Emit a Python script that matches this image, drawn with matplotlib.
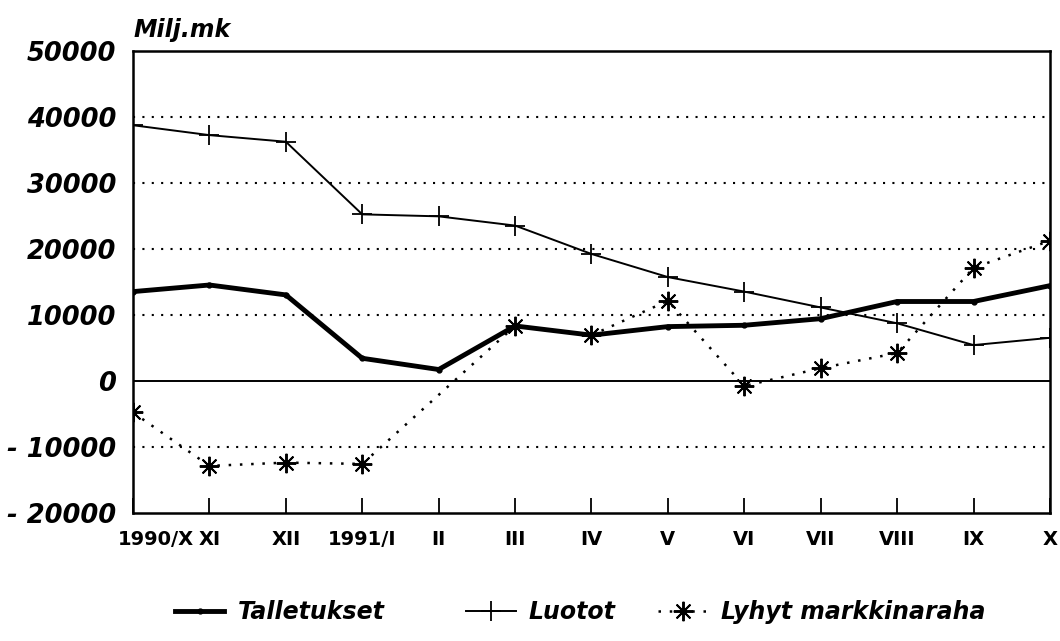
import matplotlib
matplotlib.use("Agg")
import matplotlib.pyplot as plt
import matplotlib.transforms as mtransforms
from matplotlib.lines import Line2D

# kuukaudet 1990/X - 1991/X
months = ["1990/X", "XI", "XII", "1991/I", "II", "III", "IV", "V", "VI", "VII", "VIII", "IX", "X"]
talletukset = [13600, 14600, 13100, 3500, 1800, 8400, 7000, 8300, 8500, 9500, 12100, 12100, 14500]
luotot = [38800, 37300, 36300, 25300, 25000, 23600, 19300, 15800, 13600, 11200, 8800, 5500, 6600]
# lyhyt markkinaraha: helmikuulta (II) ei havaintoa
lyhyt_months = ["1990/X", "XI", "XII", "1991/I", "III", "IV", "V", "VI", "VII", "VIII", "IX", "X"]
lyhyt = [-4700, -12800, -12300, -12500, 8400, 7000, 12200, -700, 2000, 4300, 17200, 21300]
yticks = [-20000, -10000, 0, 10000, 20000, 30000, 40000, 50000]
names = ["Talletukset", "Luotot", "Lyhyt markkinaraha"]

plt.rcParams['font.family'] = ['DejaVu Sans']

fig = plt.figure(figsize=(10.6, 6.41), dpi=100)
ax = fig.add_axes([0.1255, 0.199, 0.865, 0.721])

x = list(range(len(months)))
lx = [months.index(m) for m in lyhyt_months]

style_t = dict(color="black", lw=3.5, marker="o", ms=3.5)
style_l = dict(color="black", lw=1.4, marker="+", ms=15, mew=1.3)
style_m = dict(color="black", lw=1.8, ls=(0, (1, 3.5)), marker=(8, 2, 0), ms=14, mew=1.4)

ax.plot(x, talletukset, solid_joinstyle="miter", **style_t)
ax.plot(x, luotot, **style_l)
ax.plot(lx, lyhyt, **style_m)

for v in yticks[1:-1]:
    if v == 0:
        ax.axhline(v, color="black", lw=1.4)
    else:
        ax.axhline(v, color="black", lw=1.5, ls=(0, (1, 3.5)))

ax.set_xlim(0, 12)
ax.set_ylim(-20000, 50000)
ax.set_yticks(yticks)
ax.set_yticklabels([str(v).replace("-", "- ") for v in yticks], fontsize=18.5, fontweight="bold", fontstyle="italic")
ax.tick_params(axis="y", length=0, pad=12)
ax.set_xticks(x)
ax.set_xticklabels(months, fontsize=14, fontweight="bold")
ax.tick_params(axis="x", direction="in", length=11, width=1.3, pad=12)
for s in ax.spines.values():
    s.set_linewidth(1.8)

# ensimmäinen nimiö hieman oikealle
first = ax.get_xticklabels()[0]
first.set_transform(first.get_transform() + mtransforms.ScaledTranslation(0.23, 0, fig.dpi_scale_trans))

ax.text(0, 1.02, "Milj.mk", transform=ax.transAxes, fontsize=17, fontweight="bold", fontstyle="italic",
        ha="left", va="bottom")

# selitteet erikseen, jotta paikat osuvat
handles = [Line2D([], [], **style_t), Line2D([], [], **style_l), Line2D([], [], **style_m)]
starts = [0.165, 0.44, 0.621]
for h, name, x0 in zip(handles, names, starts):
    fig.legend([h], [name], loc="center left", bbox_to_anchor=(x0, 0.045), frameon=False,
               borderpad=0, borderaxespad=0, handlelength=2.1, handletextpad=0.55,
               prop={"size": 17, "weight": "bold", "style": "italic"})

fig.savefig("out.png", dpi=100)
